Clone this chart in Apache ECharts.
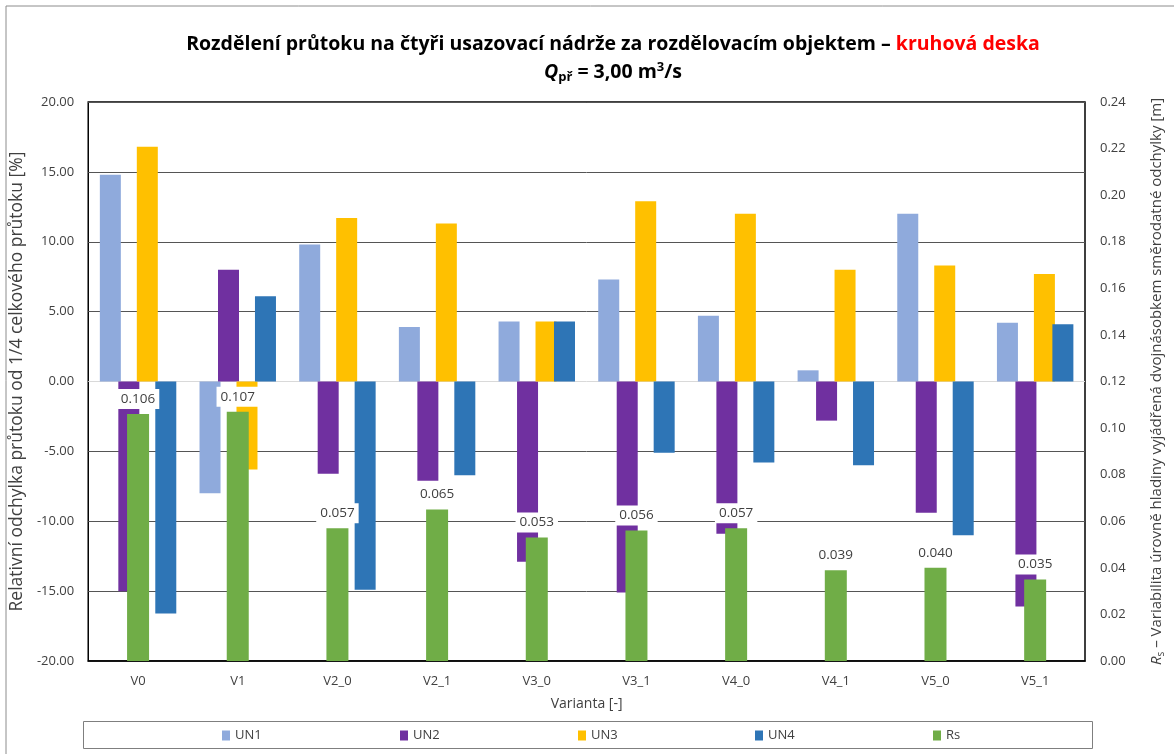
<!DOCTYPE html>
<html>
<head>
<meta charset="utf-8">
<script src="https://cdn.jsdelivr.net/npm/echarts@6/dist/echarts.min.js"></script>
<style>
  html, body { margin: 0; padding: 0; background: #fff; }
  #chart { width: 1174px; height: 754px; }
</style>
</head>
<body>
<div id="chart"></div>
<script>
// varianty
const categories = ['V0', 'V1', 'V2_0', 'V2_1', 'V3_0', 'V3_1', 'V4_0', 'V4_1', 'V5_0', 'V5_1']
// relativni odchylka [%]
const un1 = [14.8, -8.0, 9.8, 3.9, 4.3, 7.3, 4.7, 0.8, 12.0, 4.2]
const un2 = [-15.0, 8.0, -6.6, -7.1, -12.9, -15.1, -10.9, -2.8, -9.4, -16.1]
const un3 = [16.8, -6.3, 11.7, 11.3, 4.3, 12.9, 12.0, 8.0, 8.3, 7.7]
const un4 = [-16.6, 6.1, -14.9, -6.7, 4.3, -5.1, -5.8, -6.0, -11.0, 4.1]
// Rs [m]
const rs = [0.106, 0.107, 0.057, 0.065, 0.053, 0.056, 0.057, 0.039, 0.040, 0.035]

const seriesNames = ['UN1', 'UN2', 'UN3', 'UN4', 'Rs']
const colors = ['#8faadc', '#7030a0', '#ffc000', '#2e75b6', '#70ad47']
const legendLeft = [222, 400, 578, 755, 933]

const textColor = '#404040'
const font = "'Open Sans', 'Noto Sans', sans-serif"

const chart = echarts.init(document.getElementById('chart'))

function unSeries(name, data, i) {
  return {
    name: name,
    type: 'bar',
    data: data,
    barWidth: 21,
    barGap: '-12%',
    itemStyle: { color: colors[i] },
    z: 2
  }
}

// kazda polozka legendy zvlast, aby sedely rozestupy
const legends = seriesNames.map((name, i) => ({
  data: [name],
  left: legendLeft[i],
  top: 729,
  padding: 0,
  icon: 'rect',
  itemWidth: 8,
  itemHeight: 10,
  itemGap: 5,
  textStyle: { color: textColor, fontSize: 13, fontFamily: font }
}))

chart.setOption({
  animation: false,
  textStyle: { fontFamily: font },
  title: {
    left: 613,
    top: 30,
    padding: 0,
    textAlign: 'center',
    text: '{a|Rozdělení průtoku na čtyři usazovací nádrže za rozdělovacím objektem – }{r|kruhová deska}\n' +
      '{q|Q}{sub|př}{a| = 3,00 m}{sup|3}{a|/s}',
    textStyle: {
      fontFamily: font,
      rich: {
        a: { fontSize: 19.5, fontWeight: 'bold', color: '#000', lineHeight: 28, fontFamily: font },
        r: { fontSize: 19.5, fontWeight: 'bold', color: '#ff0000', lineHeight: 28, fontFamily: font },
        q: { fontSize: 19.5, fontWeight: 'bold', fontStyle: 'italic', color: '#000', lineHeight: 28, fontFamily: font },
        sub: { fontSize: 13, fontWeight: 'bold', color: '#000', padding: [10, 0, 0, 0], fontFamily: font },
        sup: { fontSize: 13, fontWeight: 'bold', color: '#000', padding: [0, 0, 9, 0], fontFamily: font }
      }
    }
  },
  graphic: [
    {
      type: 'rect',
      shape: { x: 6, y: 6, width: 1200, height: 800 },
      style: { fill: 'none', stroke: '#8c8c8c', lineWidth: 1 },
      silent: true
    },
    {
      type: 'rect',
      shape: { x: 83.5, y: 721.5, width: 1009, height: 27 },
      style: { fill: 'none', stroke: '#7f7f7f', lineWidth: 1 },
      silent: true
    }
  ],
  legend: legends,
  grid: {
    left: 83,
    right: 84,
    top: 102,
    bottom: 93,
    show: true,
    borderColor: '#000',
    borderWidth: 1.5,
    containLabel: false
  },
  xAxis: [
    {
      type: 'category',
      data: categories,
      position: 'bottom',
      axisLine: { show: true, onZero: false, lineStyle: { color: '#000', width: 1.5 } },
      axisTick: { show: false },
      axisLabel: { color: textColor, fontSize: 13, margin: 14 },
      name: 'Varianta [-]',
      nameLocation: 'middle',
      nameGap: 36,
      nameTextStyle: { color: textColor, fontSize: 14 }
    },
    {
      type: 'category',
      data: categories,
      show: false
    }
  ],
  yAxis: [
    {
      type: 'value',
      min: -20,
      max: 20,
      interval: 5,
      axisLine: { show: false },
      axisTick: { show: false },
      axisLabel: {
        color: textColor,
        fontSize: 13,
        margin: 14,
        formatter: v => v.toFixed(2)
      },
      splitLine: {
        lineStyle: {
          color: ['#555', '#555', '#555', '#555', '#d9d9d9', '#555', '#555', '#555', '#555'],
          width: 1
        }
      },
      name: 'Relativní odchylka průtoku od 1/4 celkového průtoku [%]',
      nameLocation: 'middle',
      nameGap: 60,
      nameTextStyle: { color: textColor, fontSize: 17.5 }
    },
    {
      type: 'value',
      min: 0,
      max: 0.24,
      interval: 0.02,
      axisLine: { show: false },
      axisTick: { show: false },
      splitLine: { show: false },
      axisLabel: {
        color: textColor,
        fontSize: 13,
        margin: 15,
        formatter: v => v.toFixed(2)
      },
      name: '{i|R}{s|s} – Variabilita úrovně hladiny vyjádřená dvojnásobkem směrodatné odchylky [m]',
      nameLocation: 'middle',
      nameGap: 63,
      nameTextStyle: {
        color: textColor,
        fontSize: 15,
        rich: {
          i: { fontStyle: 'italic', fontSize: 15, color: textColor, fontFamily: font },
          s: { fontSize: 10, color: textColor, padding: [8, 0, 0, 0], fontFamily: font }
        }
      }
    }
  ],
  series: [
    unSeries('UN1', un1, 0),
    unSeries('UN2', un2, 1),
    unSeries('UN3', un3, 2),
    unSeries('UN4', un4, 3),
    {
      name: 'Rs',
      type: 'bar',
      data: rs,
      xAxisIndex: 1,
      yAxisIndex: 1,
      barWidth: 22,
      itemStyle: { color: colors[4] },
      z: 3,
      label: {
        show: true,
        position: 'top',
        distance: 5,
        color: textColor,
        fontSize: 13.5,
        backgroundColor: '#fff',
        padding: [3, 4],
        formatter: p => p.value.toFixed(3)
      }
    }
  ]
})
</script>
</body>
</html>
